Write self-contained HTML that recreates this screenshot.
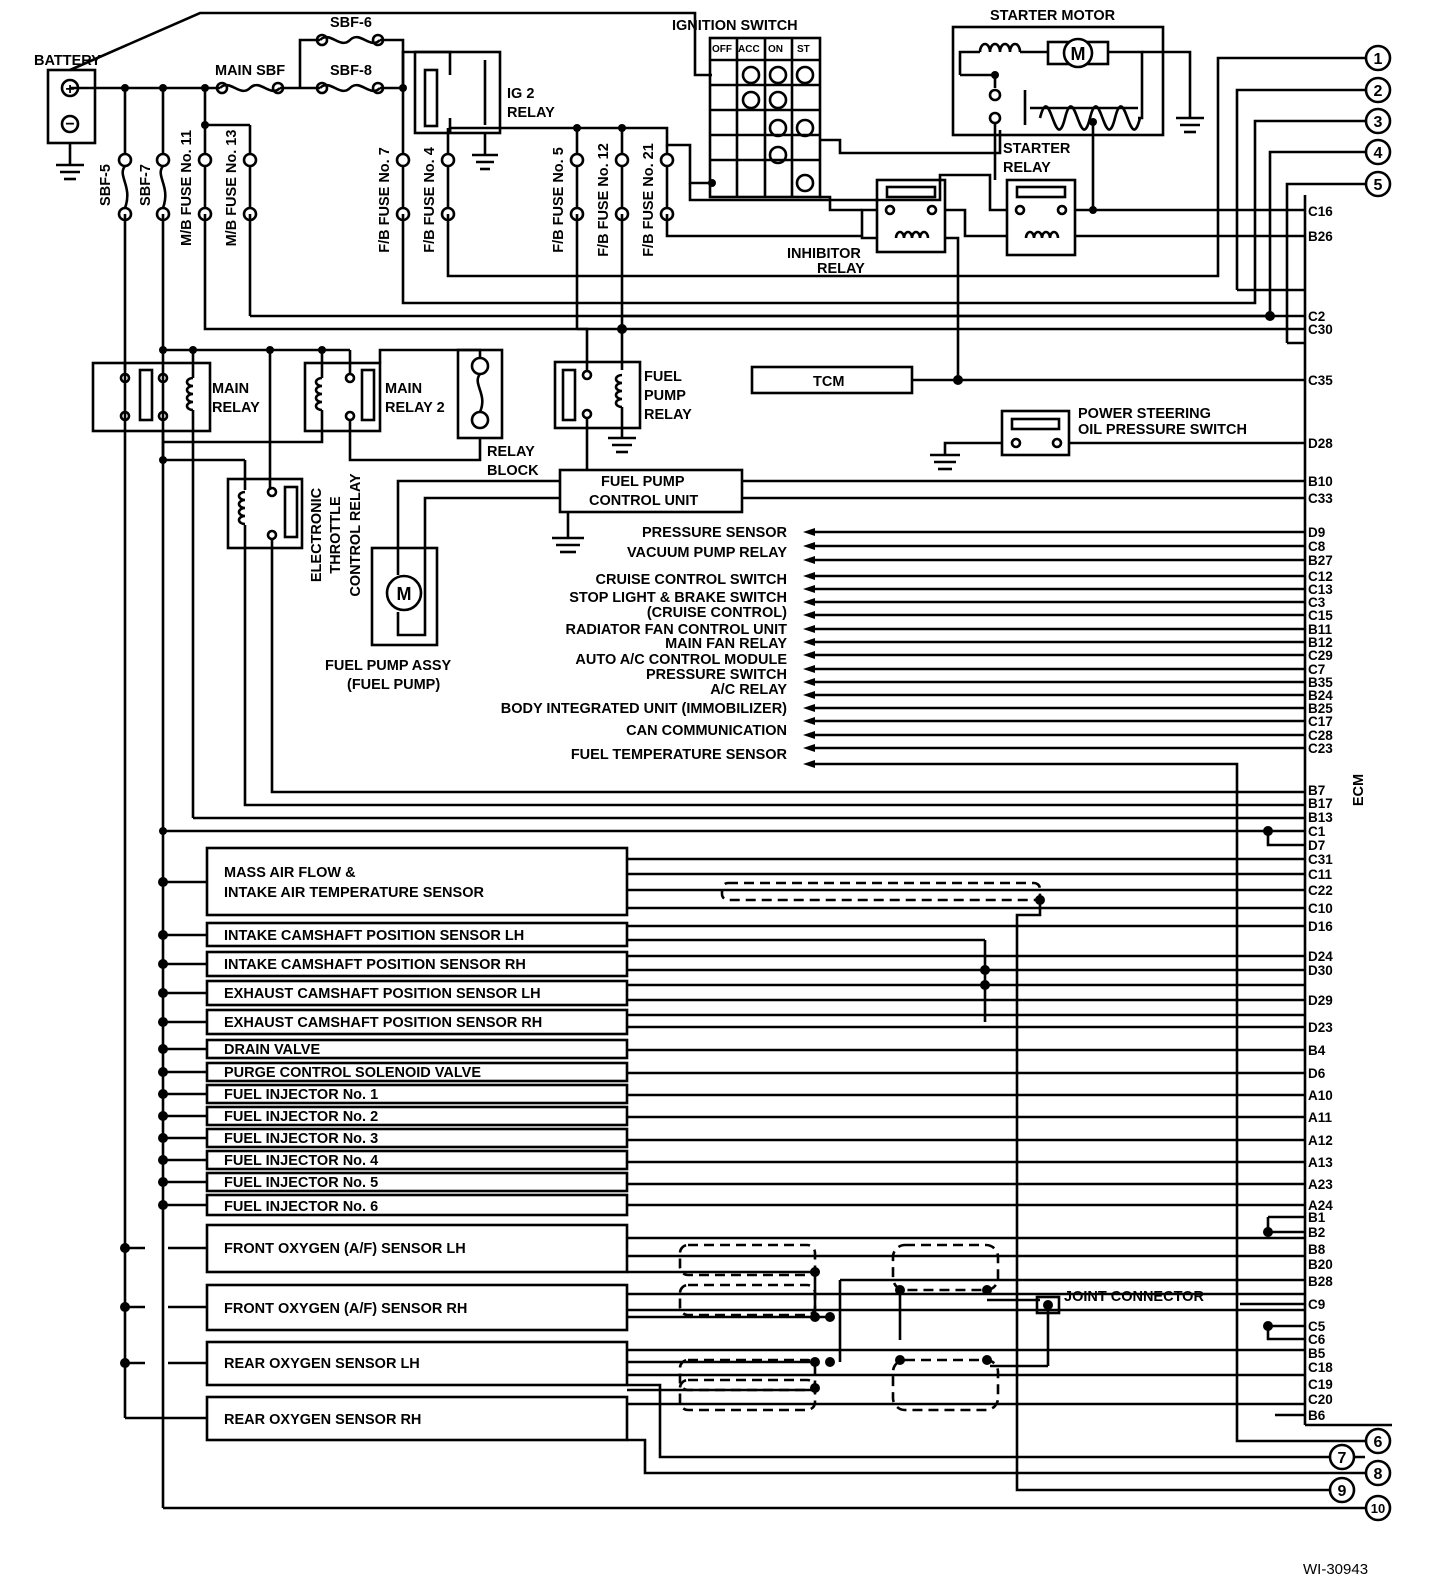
<!DOCTYPE html>
<html><head><meta charset="utf-8"><style>
html,body{margin:0;padding:0;background:#fff;}
svg{display:block}
text{font-family:"Liberation Sans",sans-serif;font-weight:bold;font-size:14.5px;fill:#000}
.s text{font-size:13.5px}
</style></head><body>
<svg width="1440" height="1576" viewBox="0 0 1440 1576" xmlns="http://www.w3.org/2000/svg">
<g stroke="#000" stroke-width="2.6" fill="none">
<line x1="1305" y1="195" x2="1305" y2="1425"/>
<rect x="48" y="70" width="47" height="73"/>
<circle cx="70" cy="88" r="8"/><circle cx="70" cy="124" r="8"/>
<line x1="70" y1="143" x2="70" y2="165"/>
<line x1="56" y1="165" x2="84" y2="165"/><line x1="60" y1="172" x2="80" y2="172"/><line x1="64" y1="179" x2="76" y2="179"/>
<polyline points="70,70 200,13 695,13 695,75 712,75"/>
<line x1="70" y1="88" x2="220" y2="88"/>
<path d="M220,88 c10,-10 20,10 30,0 c10,-10 20,10 30,0"/>
<line x1="280" y1="88" x2="320" y2="88"/>
<path d="M320,88 c10,-10 20,10 30,0 c10,-10 20,10 30,0"/>
<line x1="380" y1="88" x2="403" y2="88"/>
<polyline points="300,88 300,40 320,40"/>
<path d="M320,40 c10,-10 20,10 30,0 c10,-10 20,10 30,0"/>
<polyline points="380,40 403,40 403,88"/>
<circle cx="222" cy="88" r="5"/><circle cx="278" cy="88" r="5"/><circle cx="322" cy="88" r="5"/><circle cx="378" cy="88" r="5"/>
<circle cx="322" cy="40" r="5"/><circle cx="378" cy="40" r="5"/>
<rect x="415" y="52" width="85" height="81"/>
<rect x="425" y="70" width="12" height="56"/>
<polyline points="403,88 403,52 450,52 450,75"/>
<polyline points="450,118 450,133"/>
<polyline points="485,60 485,125"/>
<line x1="485" y1="133" x2="485" y2="155"/>
<line x1="472" y1="155" x2="498" y2="155"/><line x1="476" y1="162" x2="494" y2="162"/><line x1="480" y1="169" x2="490" y2="169"/>
<line x1="403" y1="88" x2="403" y2="155"/>
<polyline points="450,133 450,128 577,128 577,155"/>
<line x1="125" y1="88" x2="125" y2="155"/><line x1="163" y1="88" x2="163" y2="155"/><line x1="205" y1="88" x2="205" y2="155"/>
<line x1="205" y1="125" x2="250" y2="125"/><line x1="250" y1="125" x2="250" y2="155"/>
<line x1="448" y1="128" x2="448" y2="155"/>
<line x1="577" y1="128" x2="622" y2="128"/><line x1="622" y1="128" x2="622" y2="155"/>
<polyline points="622,128 667,128 667,145 690,145 690,183 712,183"/>
<line x1="667" y1="145" x2="667" y2="155"/>
<g>
<circle cx="125" cy="160" r="6"/><circle cx="125" cy="214" r="6"/><path d="M125,166 c-8,10 8,20 0,42"/>
<circle cx="163" cy="160" r="6"/><circle cx="163" cy="214" r="6"/><path d="M163,166 c-8,10 8,20 0,42"/>
<circle cx="205" cy="160" r="6"/><circle cx="205" cy="214" r="6"/><line x1="205" y1="166" x2="205" y2="208"/>
<circle cx="250" cy="160" r="6"/><circle cx="250" cy="214" r="6"/><line x1="250" y1="166" x2="250" y2="208"/>
<circle cx="403" cy="160" r="6"/><circle cx="403" cy="214" r="6"/><line x1="403" y1="166" x2="403" y2="208"/>
<circle cx="448" cy="160" r="6"/><circle cx="448" cy="214" r="6"/><line x1="448" y1="166" x2="448" y2="208"/>
<circle cx="577" cy="160" r="6"/><circle cx="577" cy="214" r="6"/><line x1="577" y1="166" x2="577" y2="208"/>
<circle cx="622" cy="160" r="6"/><circle cx="622" cy="214" r="6"/><line x1="622" y1="166" x2="622" y2="208"/>
<circle cx="667" cy="160" r="6"/><circle cx="667" cy="214" r="6"/><line x1="667" y1="166" x2="667" y2="208"/>
</g>
<rect x="710" y="38" width="110" height="159"/>
<line x1="737" y1="38" x2="737" y2="197"/><line x1="765" y1="38" x2="765" y2="197"/><line x1="792" y1="38" x2="792" y2="197"/>
<line x1="710" y1="60" x2="820" y2="60"/><line x1="710" y1="85" x2="820" y2="85"/><line x1="710" y1="110" x2="820" y2="110"/><line x1="710" y1="135" x2="820" y2="135"/><line x1="710" y1="160" x2="820" y2="160"/>
<circle cx="751" cy="75" r="8"/><circle cx="778" cy="75" r="8"/><circle cx="805" cy="75" r="8"/>
<circle cx="751" cy="100" r="8"/><circle cx="778" cy="100" r="8"/>
<circle cx="778" cy="128" r="8"/><circle cx="805" cy="128" r="8"/>
<circle cx="778" cy="155" r="8"/><circle cx="805" cy="183" r="8"/>
<polyline points="820,140 840,140 840,153 1000,153 1000,130"/>
<polyline points="820,197 830,197 830,210 862,210"/>
<polyline points="690,183 690,200 940,200 940,175 990,175 990,210 1008,210"/>
<rect x="953" y="27" width="210" height="108"/>
<polyline points="960,75 960,52 980,52"/>
<path d="M980,52 a5,8 0 1 1 10,0 a5,8 0 1 1 10,0 a5,8 0 1 1 10,0 a5,8 0 1 1 10,0"/>
<line x1="1020" y1="52" x2="1048" y2="52"/>
<rect x="1048" y="42" width="60" height="22"/>
<circle cx="1078" cy="53" r="14" fill="#fff"/>
<polyline points="1108,52 1142,52 1142,118 1138,118"/>
<polyline points="1142,52 1190,52 1190,118"/>
<line x1="1176" y1="118" x2="1204" y2="118"/><line x1="1180" y1="125" x2="1200" y2="125"/><line x1="1184" y1="132" x2="1196" y2="132"/>
<polyline points="960,75 995,75 995,88"/>
<circle cx="995" cy="95" r="5"/><circle cx="995" cy="118" r="5"/>
<line x1="995" y1="123" x2="995" y2="180"/>
<line x1="1025" y1="90" x2="1025" y2="125"/>
<line x1="1030" y1="108" x2="1138" y2="108"/>
<path d="M1040,118 c10,-40 15,40 25,0 c10,-40 15,40 25,0 c10,-40 15,40 25,0 c10,-40 15,40 25,0"/>
<line x1="1093" y1="122" x2="1093" y2="210"/>
<rect x="877" y="180" width="68" height="72"/>
<rect x="887" y="187" width="48" height="10"/>
<circle cx="890" cy="210" r="4"/><circle cx="932" cy="210" r="4"/>
<path d="M896,238 a4,6 0 1 1 8,0 a4,6 0 1 1 8,0 a4,6 0 1 1 8,0 a4,6 0 1 1 8,0"/>
<polyline points="877,238 862,238 862,210 877,210"/>
<polyline points="945,210 965,210 965,236 1008,236"/>
<polyline points="945,238 958,238 958,380"/>
<rect x="1007" y="180" width="68" height="75"/>
<rect x="1017" y="187" width="48" height="10"/>
<circle cx="1020" cy="210" r="4"/><circle cx="1062" cy="210" r="4"/>
<path d="M1026,238 a4,6 0 1 1 8,0 a4,6 0 1 1 8,0 a4,6 0 1 1 8,0 a4,6 0 1 1 8,0"/>
<line x1="1075" y1="210" x2="1305" y2="210"/>
<line x1="1075" y1="236" x2="1305" y2="236"/>
<polyline points="667,214 667,236 862,236"/>
<polyline points="1365,58 1218,58 1218,276 448,276 448,214"/>
<polyline points="1365,90 1237,90 1237,290"/>
<polyline points="1365,121 1255,121 1255,303 403,303 403,214"/>
<polyline points="1365,152 1270,152 1270,316 622,316"/>
<polyline points="1365,184 1287,184 1287,343"/>
<line x1="1237" y1="290" x2="1305" y2="290"/>
<line x1="250" y1="214" x2="250" y2="316"/><line x1="250" y1="316" x2="1305" y2="316"/>
<polyline points="205,214 205,329 1305,329"/>
<line x1="1287" y1="343" x2="1305" y2="343"/>
<polyline points="577,214 577,329"/>
<line x1="622" y1="214" x2="622" y2="370"/>
<line x1="125" y1="214" x2="125" y2="1418"/>
<line x1="163" y1="214" x2="163" y2="1508"/>
<line x1="163" y1="1508" x2="1365" y2="1508"/>
<line x1="125" y1="1418" x2="207" y2="1418"/>
<line x1="163" y1="350" x2="350" y2="350"/><line x1="350" y1="350" x2="350" y2="375"/>
<line x1="125" y1="363" x2="125" y2="370"/>
<line x1="163" y1="460" x2="245" y2="460"/><line x1="245" y1="460" x2="245" y2="490"/>
<rect x="93" y="363" width="117" height="68"/>
<rect x="140" y="370" width="12" height="50"/>
<circle cx="125" cy="378" r="4"/><circle cx="125" cy="416" r="4"/>
<circle cx="163" cy="378" r="4"/><circle cx="163" cy="416" r="4"/>
<path d="M193,378 a6,4 0 1 0 0,8 a6,4 0 1 0 0,8 a6,4 0 1 0 0,8 a6,4 0 1 0 0,8"/>
<line x1="193" y1="350" x2="193" y2="378"/>
<line x1="193" y1="410" x2="193" y2="818"/><line x1="193" y1="818" x2="1305" y2="818"/>
<line x1="163" y1="431" x2="163" y2="460"/>
<line x1="270" y1="350" x2="270" y2="490"/>
<rect x="305" y="363" width="75" height="68"/>
<rect x="362" y="370" width="12" height="50"/>
<path d="M322,378 a6,4 0 1 0 0,8 a6,4 0 1 0 0,8 a6,4 0 1 0 0,8 a6,4 0 1 0 0,8"/>
<circle cx="350" cy="378" r="4"/><circle cx="350" cy="416" r="4"/>
<line x1="322" y1="350" x2="322" y2="378"/>
<polyline points="322,410 322,442 163,442"/>
<polyline points="350,420 350,460 425,460 480,460 480,438"/>
<rect x="458" y="350" width="44" height="88"/>
<circle cx="480" cy="366" r="8"/><circle cx="480" cy="420" r="8"/>
<path d="M480,374 c-8,10 8,20 0,38"/>
<polyline points="480,358 480,350 380,350 380,363"/>
<rect x="555" y="362" width="85" height="66"/>
<rect x="563" y="370" width="12" height="50"/>
<circle cx="587" cy="375" r="4"/><circle cx="587" cy="414" r="4"/>
<path d="M622,375 a6,4 0 1 0 0,8 a6,4 0 1 0 0,8 a6,4 0 1 0 0,8 a6,4 0 1 0 0,8"/>
<polyline points="577,329 587,329 587,371"/>
<line x1="622" y1="407" x2="622" y2="438"/>
<line x1="608" y1="438" x2="636" y2="438"/><line x1="612" y1="445" x2="632" y2="445"/><line x1="616" y1="452" x2="628" y2="452"/>
<line x1="587" y1="418" x2="587" y2="470"/>
<rect x="228" y="479" width="74" height="69"/>
<rect x="285" y="487" width="12" height="50"/>
<path d="M245,492 a6,4 0 1 0 0,8 a6,4 0 1 0 0,8 a6,4 0 1 0 0,8 a6,4 0 1 0 0,8"/>
<circle cx="272" cy="492" r="4"/><circle cx="272" cy="535" r="4"/>
<polyline points="245,525 245,805 1305,805"/>
<polyline points="272,540 272,792 1305,792"/>
<rect x="560" y="470" width="182" height="42"/>
<line x1="742" y1="481" x2="1305" y2="481"/><line x1="742" y1="498" x2="1305" y2="498"/>
<polyline points="560,481 398,481 398,548"/>
<polyline points="560,498 425,498 425,548"/>
<polyline points="568,512 568,538"/>
<line x1="552" y1="538" x2="584" y2="538"/><line x1="556" y1="545" x2="580" y2="545"/><line x1="560" y1="552" x2="576" y2="552"/>
<rect x="372" y="548" width="65" height="97"/>
<polyline points="398,548 398,575"/><polyline points="398,612 398,635 425,635 425,548"/>
<circle cx="404" cy="593" r="17"/>
<rect x="752" y="367" width="160" height="26"/>
<line x1="912" y1="380" x2="1305" y2="380"/>
<rect x="1002" y="411" width="67" height="44"/>
<rect x="1012" y="419" width="47" height="10"/>
<circle cx="1016" cy="443" r="4"/><circle cx="1057" cy="443" r="4"/>
<polyline points="1002,443 945,443 945,455"/>
<line x1="930" y1="455" x2="960" y2="455"/><line x1="934" y1="462" x2="956" y2="462"/><line x1="938" y1="469" x2="952" y2="469"/>
<line x1="1069" y1="443" x2="1305" y2="443"/>
<g>
<line x1="815" y1="532" x2="1305" y2="532"/><line x1="815" y1="546" x2="1305" y2="546"/><line x1="815" y1="560" x2="1305" y2="560"/>
<line x1="815" y1="576" x2="1305" y2="576"/><line x1="815" y1="589" x2="1305" y2="589"/><line x1="815" y1="602" x2="1305" y2="602"/>
<line x1="815" y1="615" x2="1305" y2="615"/><line x1="815" y1="629" x2="1305" y2="629"/><line x1="815" y1="642" x2="1305" y2="642"/>
<line x1="815" y1="655" x2="1305" y2="655"/><line x1="815" y1="669" x2="1305" y2="669"/><line x1="815" y1="682" x2="1305" y2="682"/>
<line x1="815" y1="695" x2="1305" y2="695"/><line x1="815" y1="708" x2="1305" y2="708"/><line x1="815" y1="721" x2="1305" y2="721"/>
<line x1="815" y1="735" x2="1305" y2="735"/><line x1="815" y1="748" x2="1305" y2="748"/>
<polyline points="815,764 1237,764 1237,1441 1365,1441"/>
</g>
<polyline points="163,831 1305,831"/>
<polyline points="1268,831 1268,845 1305,845"/>
<polyline points="1268,1217 1305,1217"/><polyline points="1268,1217 1268,1232 1305,1232"/>
<polyline points="1268,1326 1305,1326"/><polyline points="1268,1326 1268,1339 1305,1339"/>
<polyline points="1275,1415 1305,1415"/>
<polyline points="1305,1425 1392,1425"/>
<polyline points="1365,1457 660,1457 660,1385 627,1385"/>
<polyline points="1365,1473 645,1473 645,1440 627,1440"/>
<polyline points="1330,1490 1017,1490 1017,915 1040,915 1040,900"/>
<rect x="207" y="848" width="420" height="67"/>
<rect x="207" y="923" width="420" height="23"/><rect x="207" y="952" width="420" height="24"/>
<rect x="207" y="981" width="420" height="24"/><rect x="207" y="1010" width="420" height="24"/>
<rect x="207" y="1040" width="420" height="18"/><rect x="207" y="1063" width="420" height="18"/>
<rect x="207" y="1085" width="420" height="18"/><rect x="207" y="1107" width="420" height="18"/>
<rect x="207" y="1129" width="420" height="18"/><rect x="207" y="1151" width="420" height="18"/>
<rect x="207" y="1173" width="420" height="18"/><rect x="207" y="1195" width="420" height="20"/>
<rect x="207" y="1225" width="420" height="47"/><rect x="207" y="1285" width="420" height="45"/>
<rect x="207" y="1342" width="420" height="43"/><rect x="207" y="1397" width="420" height="43"/>
<g>
<line x1="163" y1="882" x2="207" y2="882"/><line x1="163" y1="935" x2="207" y2="935"/><line x1="163" y1="964" x2="207" y2="964"/>
<line x1="163" y1="993" x2="207" y2="993"/><line x1="163" y1="1022" x2="207" y2="1022"/><line x1="163" y1="1049" x2="207" y2="1049"/>
<line x1="163" y1="1072" x2="207" y2="1072"/><line x1="163" y1="1094" x2="207" y2="1094"/><line x1="163" y1="1116" x2="207" y2="1116"/>
<line x1="163" y1="1138" x2="207" y2="1138"/><line x1="163" y1="1160" x2="207" y2="1160"/><line x1="163" y1="1182" x2="207" y2="1182"/>
<line x1="163" y1="1205" x2="207" y2="1205"/>
<line x1="125" y1="1248" x2="145" y2="1248"/><line x1="168" y1="1248" x2="207" y2="1248"/>
<line x1="125" y1="1307" x2="145" y2="1307"/><line x1="168" y1="1307" x2="207" y2="1307"/>
<line x1="125" y1="1363" x2="145" y2="1363"/><line x1="168" y1="1363" x2="207" y2="1363"/>
</g>
<g>
<line x1="627" y1="859" x2="1305" y2="859"/><line x1="627" y1="874" x2="1305" y2="874"/><line x1="627" y1="890" x2="1305" y2="890"/><line x1="627" y1="908" x2="1305" y2="908"/>
<line x1="627" y1="926" x2="1305" y2="926"/><line x1="627" y1="940" x2="985" y2="940"/><line x1="985" y1="940" x2="985" y2="1022"/>
<line x1="627" y1="956" x2="1305" y2="956"/><line x1="627" y1="970" x2="1305" y2="970"/><line x1="627" y1="985" x2="1305" y2="985"/>
<line x1="627" y1="1000" x2="1305" y2="1000"/><line x1="627" y1="1027" x2="1305" y2="1027"/><line x1="627" y1="1015" x2="1305" y2="1015"/>
<line x1="627" y1="1050" x2="1305" y2="1050"/><line x1="627" y1="1073" x2="1305" y2="1073"/><line x1="627" y1="1095" x2="1305" y2="1095"/>
<line x1="627" y1="1117" x2="1305" y2="1117"/><line x1="627" y1="1140" x2="1305" y2="1140"/><line x1="627" y1="1162" x2="1305" y2="1162"/>
<line x1="627" y1="1184" x2="1305" y2="1184"/><line x1="627" y1="1205" x2="1305" y2="1205"/>
<line x1="627" y1="1238" x2="1305" y2="1238"/><line x1="627" y1="1256" x2="1305" y2="1256"/><line x1="627" y1="1272" x2="815" y2="1272"/>
<line x1="627" y1="1294" x2="1305" y2="1294"/><line x1="627" y1="1310" x2="1305" y2="1310"/><line x1="627" y1="1317" x2="830" y2="1317"/>
<line x1="627" y1="1350" x2="1305" y2="1350"/><line x1="627" y1="1362" x2="815" y2="1362"/><line x1="627" y1="1375" x2="1305" y2="1375"/>
<line x1="627" y1="1390" x2="815" y2="1390"/><line x1="627" y1="1404" x2="1305" y2="1404"/>
<line x1="840" y1="1280" x2="1305" y2="1280"/><line x1="840" y1="1280" x2="840" y2="1362"/>
<line x1="987" y1="1300" x2="1040" y2="1300"/><line x1="1048" y1="1305" x2="1048" y2="1366" /><line x1="990" y1="1366" x2="1048" y2="1366"/>
<line x1="900" y1="1290" x2="900" y2="1340"/><line x1="815" y1="1272" x2="815" y2="1317"/>
<line x1="1240" y1="1304" x2="1305" y2="1304"/>
</g>
<g stroke-dasharray="10,6">
<rect x="722" y="883" width="318" height="17" rx="6"/>
<rect x="680" y="1245" width="135" height="30" rx="8"/><rect x="680" y="1285" width="135" height="30" rx="8"/>
<rect x="680" y="1360" width="135" height="30" rx="8"/><rect x="680" y="1380" width="135" height="30" rx="8"/>
<rect x="893" y="1245" width="105" height="45" rx="12"/><rect x="893" y="1360" width="105" height="50" rx="12"/>
</g>
<rect x="1037" y="1297" width="22" height="16"/>
</g>
<g fill="#000">
<circle cx="125" cy="88" r="4"/><circle cx="163" cy="88" r="4"/><circle cx="205" cy="88" r="4"/><circle cx="205" cy="125" r="4"/>
<circle cx="403" cy="88" r="4"/><circle cx="577" cy="128" r="4"/><circle cx="622" cy="128" r="4"/><circle cx="712" cy="183" r="4"/>
<circle cx="995" cy="75" r="4"/><circle cx="1093" cy="122" r="4"/><circle cx="1093" cy="210" r="4"/><circle cx="958" cy="380" r="5"/>
<circle cx="1270" cy="316" r="5"/><circle cx="622" cy="329" r="5"/>
<circle cx="163" cy="350" r="4"/><circle cx="193" cy="350" r="4"/><circle cx="270" cy="350" r="4"/><circle cx="322" cy="350" r="4"/>
<circle cx="163" cy="460" r="4"/><circle cx="163" cy="831" r="4"/><circle cx="1268" cy="831" r="5"/>
<circle cx="163" cy="882" r="5"/><circle cx="163" cy="935" r="5"/><circle cx="163" cy="964" r="5"/><circle cx="163" cy="993" r="5"/><circle cx="163" cy="1022" r="5"/>
<circle cx="163" cy="1049" r="5"/><circle cx="163" cy="1072" r="5"/><circle cx="163" cy="1094" r="5"/><circle cx="163" cy="1116" r="5"/>
<circle cx="163" cy="1138" r="5"/><circle cx="163" cy="1160" r="5"/><circle cx="163" cy="1182" r="5"/><circle cx="163" cy="1205" r="5"/>
<circle cx="125" cy="1248" r="5"/><circle cx="125" cy="1307" r="5"/><circle cx="125" cy="1363" r="5"/>
<circle cx="985" cy="970" r="5"/><circle cx="985" cy="985" r="5"/><circle cx="1040" cy="900" r="5"/>
<circle cx="1268" cy="1232" r="5"/><circle cx="1268" cy="1326" r="5"/>
<circle cx="815" cy="1272" r="5"/><circle cx="815" cy="1317" r="5"/><circle cx="830" cy="1317" r="5"/>
<circle cx="815" cy="1362" r="5"/><circle cx="830" cy="1362" r="5"/><circle cx="815" cy="1388" r="5"/>
<circle cx="900" cy="1290" r="5"/><circle cx="987" cy="1290" r="5"/><circle cx="900" cy="1360" r="5"/><circle cx="987" cy="1360" r="5"/>
<circle cx="1048" cy="1305" r="5"/>
<path d="M803,532 l12,-4 v8z M803,546 l12,-4 v8z M803,560 l12,-4 v8z M803,576 l12,-4 v8z M803,589 l12,-4 v8z M803,602 l12,-4 v8z M803,615 l12,-4 v8z M803,629 l12,-4 v8z M803,642 l12,-4 v8z M803,655 l12,-4 v8z M803,669 l12,-4 v8z M803,682 l12,-4 v8z M803,695 l12,-4 v8z M803,708 l12,-4 v8z M803,721 l12,-4 v8z M803,735 l12,-4 v8z M803,748 l12,-4 v8z M803,764 l12,-4 v8z"/>
</g>
<g stroke="#000" stroke-width="2.6" fill="#fff">
<circle cx="1378" cy="58" r="12"/><circle cx="1378" cy="90" r="12"/><circle cx="1378" cy="121" r="12"/><circle cx="1378" cy="152" r="12"/><circle cx="1378" cy="184" r="12"/>
<circle cx="1378" cy="1441" r="12"/><circle cx="1342" cy="1457" r="12"/><circle cx="1378" cy="1473" r="12"/><circle cx="1342" cy="1490" r="12"/><circle cx="1378" cy="1508" r="12"/>
</g>
<g text-anchor="middle">
<text x="1378" y="64" style="font-size:16px">1</text><text x="1378" y="96" style="font-size:16px">2</text><text x="1378" y="127" style="font-size:16px">3</text><text x="1378" y="158" style="font-size:16px">4</text><text x="1378" y="190" style="font-size:16px">5</text>
<text x="1378" y="1447" style="font-size:16px">6</text><text x="1342" y="1463" style="font-size:16px">7</text><text x="1378" y="1479" style="font-size:16px">8</text><text x="1342" y="1496" style="font-size:16px">9</text><text x="1378" y="1513" style="font-size:13px">10</text>
<text x="1078" y="60" style="font-size:18px">M</text>
<text x="404" y="600" style="font-size:18px">M</text>
<text x="70" y="94" style="font-size:16px">+</text><text x="70" y="129" style="font-size:16px">−</text>
</g>
<text x="34" y="65">BATTERY</text>
<text x="215" y="75">MAIN SBF</text>
<text x="330" y="27">SBF-6</text><text x="330" y="75">SBF-8</text>
<text x="507" y="98">IG 2</text><text x="507" y="117">RELAY</text>
<text x="672" y="30">IGNITION SWITCH</text>
<text x="712" y="52" style="font-size:10px">OFF</text><text x="738" y="52" style="font-size:10px">ACC</text><text x="768" y="52" style="font-size:10px">ON</text><text x="797" y="52" style="font-size:10px">ST</text>
<text x="990" y="20">STARTER MOTOR</text>
<text x="1003" y="153">STARTER</text><text x="1003" y="172">RELAY</text>
<text x="787" y="258">INHIBITOR</text><text x="817" y="273">RELAY</text>
<text x="813" y="386">TCM</text>
<text x="1078" y="418">POWER STEERING</text><text x="1078" y="434">OIL PRESSURE SWITCH</text>
<text x="212" y="393">MAIN</text><text x="212" y="412">RELAY</text>
<text x="385" y="393">MAIN</text><text x="385" y="412">RELAY 2</text>
<text x="487" y="456">RELAY</text><text x="487" y="475">BLOCK</text>
<text x="644" y="381">FUEL</text><text x="644" y="400">PUMP</text><text x="644" y="419">RELAY</text>
<text x="601" y="486">FUEL PUMP</text><text x="589" y="505">CONTROL UNIT</text>
<text x="325" y="670">FUEL PUMP ASSY</text><text x="347" y="689">(FUEL PUMP)</text>
<g text-anchor="middle">
<text transform="translate(110,185) rotate(-90)">SBF-5</text>
<text transform="translate(150,185) rotate(-90)">SBF-7</text>
<text transform="translate(191,188) rotate(-90)">M/B FUSE No. 11</text>
<text transform="translate(236,188) rotate(-90)">M/B FUSE No. 13</text>
<text transform="translate(389,200) rotate(-90)">F/B FUSE No. 7</text>
<text transform="translate(434,200) rotate(-90)">F/B FUSE No. 4</text>
<text transform="translate(563,200) rotate(-90)">F/B FUSE No. 5</text>
<text transform="translate(608,200) rotate(-90)">F/B FUSE No. 12</text>
<text transform="translate(653,200) rotate(-90)">F/B FUSE No. 21</text>
<text transform="translate(321,535) rotate(-90)">ELECTRONIC</text>
<text transform="translate(340,535) rotate(-90)">THROTTLE</text>
<text transform="translate(360,535) rotate(-90)">CONTROL RELAY</text>
<text transform="translate(1363,790) rotate(-90)">ECM</text>
</g>
<g text-anchor="end">
<text x="787" y="537">PRESSURE SENSOR</text><text x="787" y="557">VACUUM PUMP RELAY</text>
<text x="787" y="584">CRUISE CONTROL SWITCH</text><text x="787" y="602">STOP LIGHT &amp; BRAKE SWITCH</text>
<text x="787" y="617">(CRUISE CONTROL)</text><text x="787" y="634">RADIATOR FAN CONTROL UNIT</text>
<text x="787" y="648">MAIN FAN RELAY</text><text x="787" y="664">AUTO A/C CONTROL MODULE</text>
<text x="787" y="679">PRESSURE SWITCH</text><text x="787" y="694">A/C RELAY</text>
<text x="787" y="713">BODY INTEGRATED UNIT (IMMOBILIZER)</text><text x="787" y="735">CAN COMMUNICATION</text>
<text x="787" y="759">FUEL TEMPERATURE SENSOR</text>
</g>
<text x="224" y="877">MASS AIR FLOW &amp;</text><text x="224" y="897">INTAKE AIR TEMPERATURE SENSOR</text>
<text x="224" y="940">INTAKE CAMSHAFT POSITION SENSOR LH</text>
<text x="224" y="969">INTAKE CAMSHAFT POSITION SENSOR RH</text>
<text x="224" y="998">EXHAUST CAMSHAFT POSITION SENSOR LH</text>
<text x="224" y="1027">EXHAUST CAMSHAFT POSITION SENSOR RH</text>
<text x="224" y="1054">DRAIN VALVE</text><text x="224" y="1077">PURGE CONTROL SOLENOID VALVE</text>
<text x="224" y="1099">FUEL INJECTOR No. 1</text><text x="224" y="1121">FUEL INJECTOR No. 2</text>
<text x="224" y="1143">FUEL INJECTOR No. 3</text><text x="224" y="1165">FUEL INJECTOR No. 4</text>
<text x="224" y="1187">FUEL INJECTOR No. 5</text><text x="224" y="1211">FUEL INJECTOR No. 6</text>
<text x="224" y="1253">FRONT OXYGEN (A/F) SENSOR LH</text>
<text x="224" y="1313">FRONT OXYGEN (A/F) SENSOR RH</text>
<text x="224" y="1368">REAR OXYGEN SENSOR LH</text>
<text x="224" y="1424">REAR OXYGEN SENSOR RH</text>
<text x="1064" y="1301">JOINT CONNECTOR</text>
<text x="1303" y="1574" style="font-size:15px;font-weight:normal">WI-30943</text>
<g class="s">
<text x="1308" y="216">C16</text><text x="1308" y="241">B26</text><text x="1308" y="321">C2</text><text x="1308" y="334">C30</text>
<text x="1308" y="385">C35</text><text x="1308" y="448">D28</text><text x="1308" y="486">B10</text><text x="1308" y="503">C33</text>
<text x="1308" y="537">D9</text><text x="1308" y="551">C8</text><text x="1308" y="565">B27</text><text x="1308" y="581">C12</text>
<text x="1308" y="594">C13</text><text x="1308" y="607">C3</text><text x="1308" y="620">C15</text><text x="1308" y="634">B11</text>
<text x="1308" y="647">B12</text><text x="1308" y="660">C29</text><text x="1308" y="674">C7</text><text x="1308" y="687">B35</text>
<text x="1308" y="700">B24</text><text x="1308" y="713">B25</text><text x="1308" y="726">C17</text><text x="1308" y="740">C28</text>
<text x="1308" y="753">C23</text><text x="1308" y="795">B7</text><text x="1308" y="808">B17</text><text x="1308" y="822">B13</text>
<text x="1308" y="836">C1</text><text x="1308" y="850">D7</text><text x="1308" y="864">C31</text><text x="1308" y="879">C11</text>
<text x="1308" y="895">C22</text><text x="1308" y="913">C10</text><text x="1308" y="931">D16</text><text x="1308" y="961">D24</text>
<text x="1308" y="975">D30</text><text x="1308" y="1005">D29</text><text x="1308" y="1032">D23</text><text x="1308" y="1055">B4</text>
<text x="1308" y="1078">D6</text><text x="1308" y="1100">A10</text><text x="1308" y="1122">A11</text><text x="1308" y="1145">A12</text>
<text x="1308" y="1167">A13</text><text x="1308" y="1189">A23</text><text x="1308" y="1210">A24</text><text x="1308" y="1222">B1</text>
<text x="1308" y="1237">B2</text><text x="1308" y="1254">B8</text><text x="1308" y="1269">B20</text><text x="1308" y="1286">B28</text>
<text x="1308" y="1309">C9</text><text x="1308" y="1331">C5</text><text x="1308" y="1344">C6</text><text x="1308" y="1358">B5</text>
<text x="1308" y="1372">C18</text><text x="1308" y="1389">C19</text><text x="1308" y="1404">C20</text><text x="1308" y="1420">B6</text>
</g>
</svg>
</body></html>
